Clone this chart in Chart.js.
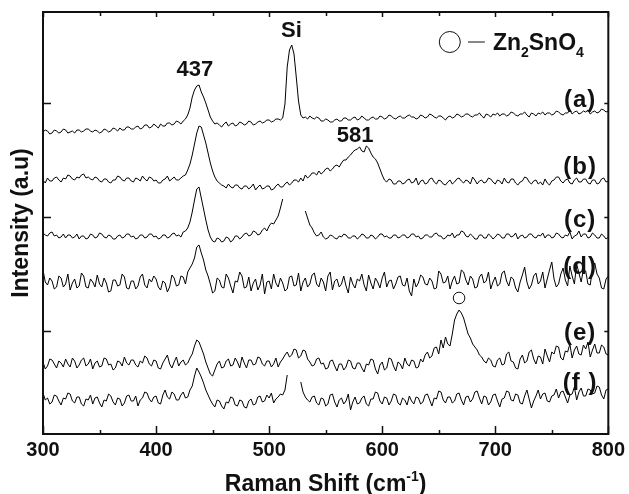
<!DOCTYPE html>
<html>
<head>
<meta charset="utf-8">
<script src="https://cdn.jsdelivr.net/npm/chart.js@4.4.1/dist/chart.umd.min.js"></script>
<style>
  html, body { margin: 0; padding: 0; background: #fff; }
</style>
</head>
<body>
<canvas id="ramanChart" width="629" height="494"></canvas>
<script>
// raman shift grid (cm-1), one reading every 2 cm-1 from 300 to 800
const shifts = [];
for (let s = 300; s <= 800; s += 2) shifts.push(s);

// offset intensities, rows of 20 points (40 cm-1 each)
const spectrumA = [
  302,304,303,300,301,304,303,301,302,305,304,301,302,303,301,304,304,302,303,305,
  305,303,302,304,303,301,302,305,304,302,303,306,305,303,306,304,304,307,307,305,
  305,307,308,305,306,309,309,306,307,310,308,306,310,308,308,311,311,309,310,313,
  312,310,313,315,319,326,337,344,348,349,342,337,331,324,317,313,310,311,309,307,
  310,312,308,310,311,308,309,312,311,309,310,313,312,309,310,312,313,311,312,314,
  314,312,313,315,315,314,316,330,367,384,389,380,357,333,319,316,317,315,318,316,
  315,317,316,313,313,315,314,312,312,314,315,313,313,316,316,314,314,316,317,314,
  315,318,316,314,314,316,317,315,315,318,317,315,316,319,318,316,315,317,318,316,
  316,318,319,317,317,315,316,319,318,316,317,320,319,317,316,318,318,316,314,317,
  318,316,317,320,319,317,318,320,320,318,317,319,319,321,318,316,320,319,317,320,
  319,321,318,320,320,318,319,322,321,319,318,320,320,322,319,317,321,320,318,321,
  320,322,319,321,321,319,320,323,322,320,319,321,321,324,320,322,323,320,321,323,
  322,324,320,322,323,321,322,325,324,322,323
];
const spectrumB = [
  254,251,256,253,253,256,257,254,252,256,255,259,258,255,254,257,256,259,260,256,
  257,255,254,257,256,253,252,255,255,252,251,254,254,258,257,254,253,256,256,253,
  252,256,255,253,258,255,253,257,256,253,254,251,251,254,255,258,253,255,257,254,
  254,256,258,259,264,270,279,290,301,308,307,299,291,281,271,263,257,253,251,249,
  248,246,250,247,246,249,249,246,245,248,248,245,247,250,244,247,249,245,246,248,
  248,244,245,248,250,247,247,250,252,249,251,254,254,252,256,253,259,256,258,261,
  261,259,263,260,262,265,266,263,265,268,269,267,271,274,274,277,279,282,284,285,
  287,283,282,288,286,281,277,275,271,265,259,254,252,255,254,250,250,253,253,250,
  251,254,255,251,252,256,249,253,254,250,251,255,256,252,250,254,253,250,249,252,
  254,250,252,255,256,253,251,254,253,250,257,254,250,253,254,251,252,256,255,252,
  250,254,253,250,256,252,251,255,255,251,249,252,253,257,256,252,250,253,254,250,
  252,249,255,251,249,253,254,257,257,253,251,254,255,251,250,254,256,252,252,255,
  255,251,250,254,254,250,251,255,256,252,253
];
const spectrumC = [
  201,199,198,201,202,198,199,196,197,200,196,199,199,196,197,200,195,198,198,195,
  196,200,199,196,197,201,200,197,196,199,198,195,195,198,199,196,197,200,200,197,
  198,195,196,199,199,196,197,200,200,197,198,195,196,199,199,196,197,200,201,198,
  199,197,202,203,206,212,222,234,245,247,236,225,214,204,197,193,192,196,195,192,
  193,197,196,192,194,198,198,195,197,200,201,198,199,203,202,199,200,204,206,203,
  208,211,210,214,218,226,235,null,null,null,null,null,null,null,null,null,223,216,209,206,
  201,198,199,202,197,195,196,199,198,196,195,198,197,200,199,196,196,198,198,195,
  197,200,199,196,196,199,198,195,197,200,200,197,198,196,196,199,199,196,197,199,
  199,196,197,200,200,197,198,195,196,199,199,197,197,200,201,198,198,195,196,199,
  198,201,196,199,199,203,202,198,197,200,198,195,195,199,199,196,196,200,198,195,
  197,200,199,196,196,200,200,197,198,201,195,198,199,196,197,200,200,197,196,199,
  198,201,196,199,199,196,197,201,200,197,196,199,198,202,195,198,199,203,197,200,
  200,196,197,201,199,196,196,200,198,195,197
];
const spectrumD = [
  164,152,149,156,153,145,147,158,156,147,150,160,144,151,155,146,148,161,158,147,
  146,155,152,147,159,150,147,156,151,142,143,154,154,148,149,160,157,146,145,153,
  153,145,148,157,160,149,146,155,152,158,155,147,144,153,151,142,147,159,156,148,
  149,158,157,150,162,166,170,176,187,189,181,174,164,158,150,141,143,156,154,147,
  146,160,156,148,141,153,152,162,158,146,147,157,143,151,155,144,149,160,140,152,
  153,145,160,151,147,156,151,143,145,157,158,148,149,161,143,152,156,147,150,159,
  161,150,147,156,152,143,158,162,144,153,155,147,150,158,148,141,157,150,146,155,
  153,160,149,143,159,151,145,156,152,146,156,162,147,153,154,145,150,157,158,149,
  148,156,143,138,155,147,151,159,157,150,149,156,153,145,146,163,160,151,152,158,
  145,153,158,150,151,164,162,154,149,158,155,146,147,157,160,151,153,162,145,152,
  157,148,150,161,163,153,148,157,155,146,142,152,159,167,152,145,149,158,161,150,
  153,162,146,155,164,172,155,147,150,160,166,154,148,168,158,150,170,161,152,165,
  163,150,149,165,171,160,156,146,145,155,158
];
const spectrumE = [
  72,65,68,75,74,70,66,73,71,67,75,70,67,76,73,66,69,74,76,68,
  70,75,65,71,73,67,68,76,75,69,70,64,66,73,72,68,77,71,69,74,
  74,69,67,73,71,78,76,70,68,74,73,66,65,71,75,79,70,66,72,77,
  68,72,74,69,71,76,80,88,94,92,86,80,72,66,60,58,64,70,73,66,
  67,73,75,68,69,76,72,66,77,71,66,74,74,69,70,77,76,70,68,73,
  73,67,70,76,67,72,75,79,82,77,79,85,84,76,78,84,83,75,72,68,
  69,75,76,70,71,65,66,73,74,68,63,70,70,64,67,74,73,66,65,71,
  71,66,62,70,69,75,74,65,60,69,72,64,66,76,75,68,63,72,70,65,
  76,70,68,74,73,66,67,75,72,79,82,76,78,86,87,80,94,86,97,90,
  88,100,114,120,124,121,116,108,100,96,90,87,84,79,77,73,71,76,74,68,
  67,74,76,69,70,80,82,73,72,66,65,75,79,71,73,82,84,75,70,78,
  77,70,85,78,72,82,80,88,87,76,74,83,82,90,76,84,88,80,79,89,
  85,92,77,84,90,81,81,89,87,80,79
];
const spectrumF = [
  41,34,36,30,32,39,38,33,29,36,35,41,40,33,31,37,37,30,28,35,
  34,39,30,36,37,31,27,34,33,40,38,32,29,36,35,28,31,38,39,33,
  33,38,28,34,36,42,41,35,32,37,38,31,30,39,44,37,35,42,40,34,
  34,39,42,36,37,44,48,58,66,62,57,51,44,39,34,30,27,34,33,28,
  25,32,31,37,36,29,28,34,33,27,26,33,35,29,30,37,38,32,33,39,
  36,41,31,35,37,40,39,44,59,null,null,null,null,null,52,42,37,34,32,37,
  38,31,29,36,35,28,30,39,40,32,27,34,36,30,33,40,24,32,37,30,
  31,36,38,30,28,35,35,42,41,33,30,37,36,29,33,40,39,31,29,36,
  34,29,38,33,30,37,36,30,32,39,40,34,28,36,35,43,42,34,31,37,
  37,31,33,40,41,34,29,37,38,32,35,42,43,36,30,38,37,29,32,39,
  40,33,27,35,36,43,42,34,33,40,39,31,30,38,44,35,26,33,38,44,
  35,40,41,33,32,38,39,45,36,42,43,37,31,39,40,47,34,42,46,38,
  38,45,44,40,41,48,47,39,35,44,45
];

const seriesLabels = ['(a)', '(b)', '(c)', '(d)', '(e)', '(f )'];
const seriesLabelY = [334, 267, 214, 167, 101, 51];
const yTickValues = [331, 217, 103];
const xTickLabels = [300, 400, 500, 600, 700, 800];

const FONT = '"Liberation Sans", Arial, Helvetica, sans-serif';
const INK = '#111';

function toPoints(arr) {
  return arr.map((v, i) => ({ x: shifts[i], y: v }));
}

const spectra = [spectrumA, spectrumB, spectrumC, spectrumD, spectrumE, spectrumF];

const frameAndLabels = {
  id: 'frameAndLabels',
  afterDraw(chart) {
    const { ctx, chartArea: a, scales: { x, y } } = chart;
    ctx.save();
    ctx.strokeStyle = INK;
    ctx.fillStyle = INK;

    // box
    ctx.lineWidth = 2;
    ctx.strokeRect(a.left, a.top, a.right - a.left, a.bottom - a.top);

    // inward ticks
    ctx.lineWidth = 1.5;
    ctx.beginPath();
    for (let v = 300; v <= 800; v += 50) {
      const px = Math.round(x.getPixelForValue(v)) + 0.5;
      const major = v % 100 === 0;
      ctx.moveTo(px, a.bottom); ctx.lineTo(px, a.bottom - (major ? 8 : 4));
      ctx.moveTo(px, a.top); ctx.lineTo(px, a.top + (major ? 5 : 4));
    }
    yTickValues.forEach(v => {
      const py = Math.round(y.getPixelForValue(v)) + 0.5;
      ctx.moveTo(a.left, py); ctx.lineTo(a.left + 8, py);
      ctx.moveTo(a.right, py); ctx.lineTo(a.right - 4, py);
    });
    ctx.stroke();

    // peak labels
    ctx.textAlign = 'center';
    ctx.textBaseline = 'middle';
    ctx.font = 'bold 22px ' + FONT;
    ctx.fillText('437', x.getPixelForValue(434.4), y.getPixelForValue(364));
    ctx.fillText('Si', x.getPixelForValue(519.8), y.getPixelForValue(403));
    ctx.fillText('581', x.getPixelForValue(576), y.getPixelForValue(298));

    // curve labels
    ctx.font = 'bold 24px ' + FONT;
    ctx.letterSpacing = '1px';
    seriesLabels.forEach((t, i) => {
      ctx.fillText(t, x.getPixelForValue(775), y.getPixelForValue(seriesLabelY[i]));
    });
    ctx.letterSpacing = '0px';

    // marker over the Zn2SnO4 peak in (e)
    ctx.lineWidth = 1;
    ctx.beginPath();
    ctx.arc(x.getPixelForValue(668), y.getPixelForValue(136), 5.8, 0, Math.PI * 2);
    ctx.stroke();

    // legend: circle - Zn2SnO4
    const ly = y.getPixelForValue(392);
    ctx.beginPath();
    ctx.arc(x.getPixelForValue(659.8), ly, 10.5, 0, Math.PI * 2);
    ctx.stroke();
    ctx.beginPath();
    ctx.moveTo(x.getPixelForValue(675.9), ly);
    ctx.lineTo(x.getPixelForValue(690.8), ly);
    ctx.stroke();

    ctx.textAlign = 'left';
    ctx.textBaseline = 'alphabetic';
    let tx = x.getPixelForValue(697.9);
    const base = y.getPixelForValue(384);
    const parts = [['Zn', 23, 0], ['2', 14, 7], ['SnO', 23, 0], ['4', 14, 7]];
    parts.forEach(([t, size, dy]) => {
      ctx.font = 'bold ' + size + 'px ' + FONT;
      ctx.fillText(t, tx, base + dy);
      tx += ctx.measureText(t).width;
    });

    // x axis title with superscript
    const title = [['Raman Shift (cm', 23, 0], ['-1', 14, -10], [')', 23, 0]];
    let total = 0;
    title.forEach(([t, size]) => { ctx.font = 'bold ' + size + 'px ' + FONT; total += ctx.measureText(t).width; });
    tx = (a.left + a.right) / 2 - total / 2;
    title.forEach(([t, size, dy]) => {
      ctx.font = 'bold ' + size + 'px ' + FONT;
      ctx.fillText(t, tx, 491 + dy);
      tx += ctx.measureText(t).width;
    });
    ctx.restore();
  }
};

const ctx = document.getElementById('ramanChart').getContext('2d');
new Chart(ctx, {
  type: 'line',
  data: {
    datasets: spectra.map((s, i) => ({
      label: seriesLabels[i],
      data: toPoints(s),
      borderColor: '#000',
      borderWidth: 1,
      pointRadius: 0,
      tension: 0,
      spanGaps: false,
      fill: false
    }))
  },
  options: {
    responsive: false,
    animation: false,
    layout: { padding: { left: 0, right: 18, top: 12, bottom: 0 } },
    plugins: { legend: { display: false }, tooltip: { enabled: false } },
    scales: {
      x: {
        type: 'linear',
        min: 300,
        max: 800,
        grid: { display: false, drawTicks: false },
        border: { display: false },
        ticks: {
          stepSize: 100,
          autoSkip: false,
          maxRotation: 0,
          padding: 4,
          color: INK,
          font: { family: FONT, size: 20, weight: 'bold' },
          callback: v => xTickLabels.includes(v) ? String(v) : ''
        },
        afterFit: s => { s.height = 60; }
      },
      y: {
        min: 0,
        max: 422,
        grid: { display: false, drawTicks: false },
        border: { display: false },
        ticks: { display: false },
        title: {
          display: true,
          text: 'Intensity (a.u)',
          color: INK,
          font: { family: FONT, size: 23, weight: 'bold' },
          padding: { top: 8, bottom: 0 }
        },
        afterFit: s => { s.width = 43; }
      }
    }
  },
  plugins: [frameAndLabels]
});
</script>
</body>
</html>
